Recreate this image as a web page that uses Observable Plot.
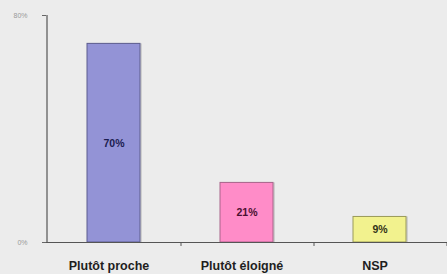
<!DOCTYPE html>
<html>
<head>
<meta charset="utf-8">
<script src="https://cdn.jsdelivr.net/npm/d3@7"></script>
<script src="https://cdn.jsdelivr.net/npm/@observablehq/plot@0.6"></script>
<style>
html, body { margin: 0; padding: 0; background: #ececec; }
#chart svg { display: block; }
</style>
</head>
<body>
<div id="chart"></div>
<script>
const categories = ["Plutôt proche", "Plutôt éloigné", "NSP"];
const values = [70, 21, 9];
const yTicks = [0, 80];
const fills = ["#9393d6", "#ff8cc8", "#f2f28e"];
const strokes = ["#5c5c8e", "#a8648a", "#9a9a5a"];
const labelColors = ["#1c1c50", "#4a1030", "#333318"];

const data = categories.map((c, i) => ({cat: c, value: values[i], fill: fills[i], stroke: strokes[i], lc: labelColors[i]}));

const chart = Plot.plot({
  width: 447,
  height: 274,
  marginLeft: 46,
  marginRight: 0,
  marginTop: 15,
  marginBottom: 32,
  style: {background: "#ececec", fontFamily: "'Liberation Sans', Arial, sans-serif"},
  x: {domain: categories, paddingInner: 0.6, paddingOuter: 0.3, axis: null},
  y: {domain: [0, 80], axis: null},
  marks: [
    // bar shadows
    Plot.barY(data, {x: "cat", y: "value", fill: "#cfcfcf", dx: 2}),
    Plot.barY(data, {x: "cat", y: "value", fill: "fill", stroke: "stroke", strokeWidth: 1}),
    // baseline
    Plot.ruleY([0], {stroke: "#555", strokeWidth: 1}),
    // y axis line
    Plot.ruleX([0], {x: () => categories[0], dx: -67, y1: 0, y2: 80, stroke: "#555", strokeWidth: 1.2}),
    // y ticks
    Plot.axisY(yTicks, {ticks: yTicks, label: null, tickSize: 4, tickPadding: 15, tickFormat: d => d + "%", fontSize: 7, stroke: "#666", fill: "#999"}),
    // category boundary ticks
    Plot.ruleX(categories, {x: d => d, dx: 67, y1: 0, y2: -1.4, stroke: "#555"}),
    // value labels
    Plot.text(data, {x: "cat", y: d => d.value / 2, text: d => d.value + "%", fontWeight: "bold", fontSize: 10.5, fill: "lc"}),
    // category labels
    Plot.text(categories, {x: d => d, y: 0, dy: 23, dx: -5, text: d => d, fontSize: 12.5, fontWeight: "bold", fill: "#1e1e1e"})
  ]
});
document.getElementById("chart").appendChild(chart);
</script>
</body>
</html>
